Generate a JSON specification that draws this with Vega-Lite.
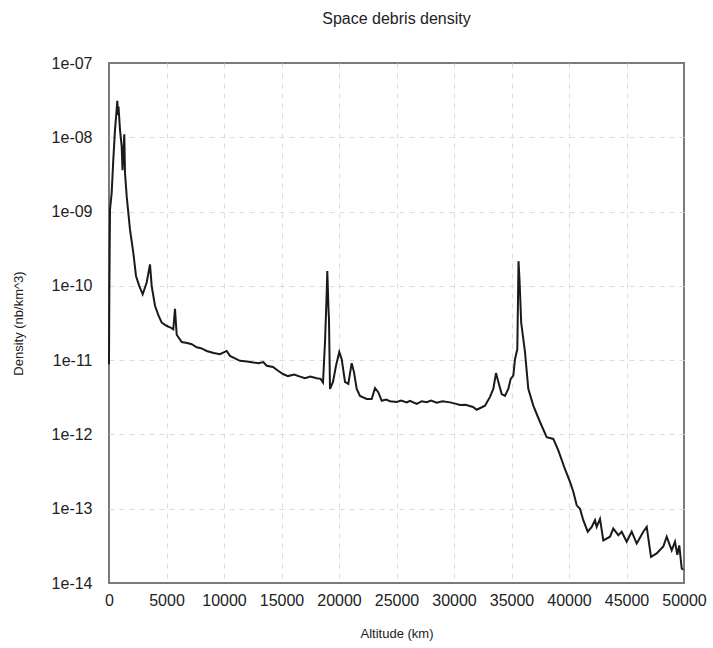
{
  "$schema": "https://vega.github.io/schema/vega-lite/v6.json",
  "autosize": {"type": "none"},
  "padding": {"left": 109, "top": 63, "right": 29, "bottom": 65},
  "width": 575,
  "height": 520,
  "background": "white",
  "config": {
    "view": {"stroke": "#7a7a7a", "strokeWidth": 2},
    "font": "Liberation Sans"
  },
  "title": {
    "text": "Space debris density",
    "fontSize": 16,
    "fontWeight": "normal",
    "color": "#222",
    "offset": 28,
    "anchor": "middle"
  },
  "data": {
    "values": [
      {"alt": 0, "density": 8.8e-12},
      {"alt": 26, "density": 7.3e-11},
      {"alt": 87, "density": 1.06e-9},
      {"alt": 235, "density": 1.8e-9},
      {"alt": 374, "density": 5.0e-9},
      {"alt": 522, "density": 1.26e-8},
      {"alt": 650, "density": 2.2e-8},
      {"alt": 722, "density": 3.1e-8},
      {"alt": 780, "density": 2.0e-8},
      {"alt": 826, "density": 2.6e-8},
      {"alt": 957, "density": 1.26e-8},
      {"alt": 1104, "density": 7.5e-9},
      {"alt": 1174, "density": 3.6e-9},
      {"alt": 1250, "density": 6.0e-9},
      {"alt": 1330, "density": 1.1e-8},
      {"alt": 1391, "density": 3.3e-9},
      {"alt": 1539, "density": 1.6e-9},
      {"alt": 1826, "density": 5.7e-10},
      {"alt": 2113, "density": 2.8e-10},
      {"alt": 2348, "density": 1.36e-10},
      {"alt": 2635, "density": 9.9e-11},
      {"alt": 2930, "density": 7.7e-11},
      {"alt": 3278, "density": 1.11e-10},
      {"alt": 3565, "density": 1.95e-10},
      {"alt": 3713, "density": 9.9e-11},
      {"alt": 4000, "density": 5.4e-11},
      {"alt": 4300, "density": 4.0e-11},
      {"alt": 4583, "density": 3.2e-11},
      {"alt": 5000, "density": 2.9e-11},
      {"alt": 5304, "density": 2.77e-11},
      {"alt": 5591, "density": 2.6e-11},
      {"alt": 5739, "density": 4.9e-11},
      {"alt": 5887, "density": 2.2e-11},
      {"alt": 6322, "density": 1.75e-11},
      {"alt": 6800, "density": 1.7e-11},
      {"alt": 7191, "density": 1.64e-11},
      {"alt": 7626, "density": 1.49e-11},
      {"alt": 8000, "density": 1.45e-11},
      {"alt": 8496, "density": 1.33e-11},
      {"alt": 9100, "density": 1.25e-11},
      {"alt": 9652, "density": 1.2e-11},
      {"alt": 10235, "density": 1.33e-11},
      {"alt": 10522, "density": 1.14e-11},
      {"alt": 11000, "density": 1.05e-11},
      {"alt": 11391, "density": 9.8e-12},
      {"alt": 12000, "density": 9.6e-12},
      {"alt": 12548, "density": 9.3e-12},
      {"alt": 13000, "density": 9.1e-12},
      {"alt": 13417, "density": 9.4e-12},
      {"alt": 13713, "density": 8.4e-12},
      {"alt": 14261, "density": 8.1e-12},
      {"alt": 14700, "density": 7.2e-12},
      {"alt": 15130, "density": 6.5e-12},
      {"alt": 15565, "density": 6.1e-12},
      {"alt": 16100, "density": 6.4e-12},
      {"alt": 16609, "density": 6.0e-12},
      {"alt": 17043, "density": 5.7e-12},
      {"alt": 17500, "density": 6.0e-12},
      {"alt": 18061, "density": 5.7e-12},
      {"alt": 18400, "density": 5.6e-12},
      {"alt": 18609, "density": 5.0e-12},
      {"alt": 18783, "density": 1.75e-11},
      {"alt": 18913, "density": 6.6e-11},
      {"alt": 18983, "density": 1.58e-10},
      {"alt": 19087, "density": 4.8e-11},
      {"alt": 19130, "density": 3.5e-11},
      {"alt": 19217, "density": 4.1e-12},
      {"alt": 19478, "density": 5.1e-12},
      {"alt": 19739, "density": 8.4e-12},
      {"alt": 20026, "density": 1.29e-11},
      {"alt": 20235, "density": 1.03e-11},
      {"alt": 20522, "density": 5.1e-12},
      {"alt": 20809, "density": 4.8e-12},
      {"alt": 21104, "density": 9.1e-12},
      {"alt": 21304, "density": 6.9e-12},
      {"alt": 21539, "density": 4.1e-12},
      {"alt": 21826, "density": 3.3e-12},
      {"alt": 22409, "density": 3.0e-12},
      {"alt": 22844, "density": 3.0e-12},
      {"alt": 23130, "density": 4.2e-12},
      {"alt": 23417, "density": 3.7e-12},
      {"alt": 23713, "density": 2.84e-12},
      {"alt": 24100, "density": 2.95e-12},
      {"alt": 24435, "density": 2.8e-12},
      {"alt": 25017, "density": 2.73e-12},
      {"alt": 25400, "density": 2.85e-12},
      {"alt": 25887, "density": 2.7e-12},
      {"alt": 26174, "density": 2.84e-12},
      {"alt": 26757, "density": 2.57e-12},
      {"alt": 27200, "density": 2.8e-12},
      {"alt": 27626, "density": 2.72e-12},
      {"alt": 28000, "density": 2.85e-12},
      {"alt": 28496, "density": 2.68e-12},
      {"alt": 29000, "density": 2.8e-12},
      {"alt": 29652, "density": 2.7e-12},
      {"alt": 30100, "density": 2.6e-12},
      {"alt": 30522, "density": 2.49e-12},
      {"alt": 31000, "density": 2.5e-12},
      {"alt": 31652, "density": 2.34e-12},
      {"alt": 31974, "density": 2.15e-12},
      {"alt": 32696, "density": 2.44e-12},
      {"alt": 33130, "density": 3.2e-12},
      {"alt": 33417, "density": 4.1e-12},
      {"alt": 33652, "density": 6.7e-12},
      {"alt": 33852, "density": 5.1e-12},
      {"alt": 34148, "density": 3.5e-12},
      {"alt": 34435, "density": 3.3e-12},
      {"alt": 34722, "density": 4.1e-12},
      {"alt": 34930, "density": 5.6e-12},
      {"alt": 35157, "density": 6.2e-12},
      {"alt": 35304, "density": 1.03e-11},
      {"alt": 35504, "density": 1.4e-11},
      {"alt": 35565, "density": 6.6e-11},
      {"alt": 35609, "density": 2.15e-10},
      {"alt": 35696, "density": 1.22e-10},
      {"alt": 35843, "density": 3.2e-11},
      {"alt": 36174, "density": 1.28e-11},
      {"alt": 36461, "density": 4.1e-12},
      {"alt": 36896, "density": 2.44e-12},
      {"alt": 37478, "density": 1.47e-12},
      {"alt": 38061, "density": 9.2e-13},
      {"alt": 38635, "density": 8.7e-13},
      {"alt": 39070, "density": 6.1e-13},
      {"alt": 39652, "density": 3.4e-13},
      {"alt": 40087, "density": 2.3e-13},
      {"alt": 40374, "density": 1.69e-13},
      {"alt": 40670, "density": 1.11e-13},
      {"alt": 40957, "density": 1.0e-13},
      {"alt": 41243, "density": 7.0e-14},
      {"alt": 41626, "density": 4.9e-14},
      {"alt": 41974, "density": 5.7e-14},
      {"alt": 42261, "density": 7.0e-14},
      {"alt": 42409, "density": 5.7e-14},
      {"alt": 42696, "density": 7.3e-14},
      {"alt": 42983, "density": 3.75e-14},
      {"alt": 43565, "density": 4.2e-14},
      {"alt": 43852, "density": 5.4e-14},
      {"alt": 44287, "density": 4.4e-14},
      {"alt": 44583, "density": 4.9e-14},
      {"alt": 45017, "density": 3.6e-14},
      {"alt": 45452, "density": 4.9e-14},
      {"alt": 45887, "density": 3.4e-14},
      {"alt": 46461, "density": 4.9e-14},
      {"alt": 46757, "density": 5.7e-14},
      {"alt": 47130, "density": 2.25e-14},
      {"alt": 47626, "density": 2.5e-14},
      {"alt": 48200, "density": 3.1e-14},
      {"alt": 48496, "density": 4.2e-14},
      {"alt": 48930, "density": 2.75e-14},
      {"alt": 49217, "density": 3.6e-14},
      {"alt": 49417, "density": 2.4e-14},
      {"alt": 49591, "density": 3.2e-14},
      {"alt": 49800, "density": 1.57e-14},
      {"alt": 49913, "density": 1.5e-14}
    ]
  },
  "mark": {"type": "line", "color": "#1a1a1a", "strokeWidth": 2, "interpolate": "linear"},
  "encoding": {
    "x": {
      "field": "alt",
      "type": "quantitative",
      "scale": {"domain": [0, 50000], "nice": false, "zero": false},
      "axis": {
        "title": "Altitude (km)",
        "values": [0, 5000, 10000, 15000, 20000, 25000, 30000, 35000, 40000, 45000, 50000],
        "format": "d",
        "domain": false,
        "ticks": false,
        "grid": true,
        "gridColor": "#dcdcdc",
        "gridDash": [5, 5],
        "gridWidth": 1,
        "gridOpacity": {"condition": {"test": "datum.value == 0 || datum.value == 50000", "value": 0}, "value": 1},
        "labelFontSize": 16,
        "labelColor": "#222",
        "labelPadding": 9,
        "labelFlush": false,
        "titleFontSize": 13,
        "titleFontWeight": "normal",
        "titleColor": "#222",
        "titlePadding": 19
      }
    },
    "y": {
      "field": "density",
      "type": "quantitative",
      "scale": {"type": "log", "domain": [1e-14, 1e-7], "nice": false},
      "axis": {
        "title": "Density (nb/km^3)",
        "values": [1e-14, 1e-13, 1e-12, 1e-11, 1e-10, 1e-9, 1e-8, 1e-7],
        "labelExpr": "datum.value >= 1e-9 ? replace(format(datum.value, '.0e'), 'e-', 'e-0') : format(datum.value, '.0e')",
        "domain": false,
        "ticks": false,
        "grid": true,
        "gridColor": "#dcdcdc",
        "gridDash": [5, 5],
        "gridWidth": 1,
        "gridOpacity": {"condition": {"test": "datum.value <= 1.01e-14 || datum.value >= 0.99e-7", "value": 0}, "value": 1},
        "labelFontSize": 16,
        "labelColor": "#222",
        "labelPadding": 17,
        "titleFontSize": 13,
        "titleFontWeight": "normal",
        "titleColor": "#222",
        "titlePadding": 26
      }
    }
  }
}
